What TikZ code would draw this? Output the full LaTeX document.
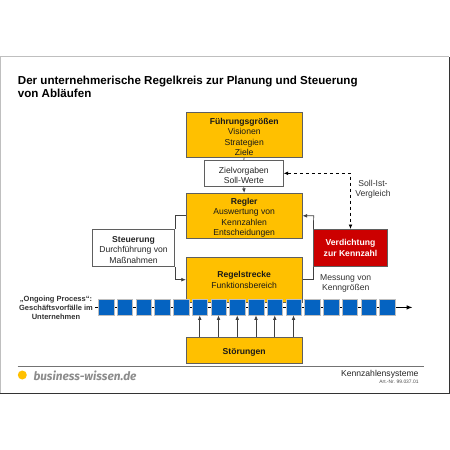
\documentclass[tikz,border=0pt]{standalone}
\usepackage{fontspec}
\setmainfont{Liberation Sans}
\newfontfamily\logofont{Fira Sans}
\usetikzlibrary{arrows.meta}
\definecolor{amber}{HTML}{FFC000}
\definecolor{edgegray}{HTML}{5F5F5F}
\definecolor{redbox}{HTML}{CC0000}
\definecolor{bluebox}{HTML}{0563C1}
\newcommand{\dropline}{\rule{0pt}{10pt}}
\tikzset{
  x=1pt,y=-1pt,
  ybox/.style={draw=edgegray,line width=0.7pt,fill=amber,inner sep=0pt,align=center,font=\fontsize{8.6}{10.5}\selectfont,text=black!90},
  wbox/.style={draw=edgegray,line width=0.7pt,fill=white,inner sep=0pt,align=center,font=\fontsize{8.6}{10.5}\selectfont,text=black!85},
  pbox/.style={draw=black!25,line width=0.5pt,fill=bluebox,minimum width=15.5pt,minimum height=15.5pt,inner sep=0pt},
  lab/.style={align=center,font=\fontsize{8.6}{10.2}\selectfont,text=black!80,inner sep=0pt},
  conn/.style={draw=black!75,line width=0.7pt,-{Latex[length=4.5pt,width=3.8pt]}},
  plain/.style={draw=black!75,line width=0.7pt},
}
\begin{document}
\begin{tikzpicture}
\useasboundingbox (0,0) rectangle (450,450);
\fill[white] (0,0) rectangle (450,450);
% slide frame
\draw[black!25,line width=1pt] (0.5,393) -- (0.5,56.5) -- (449,56.5);
\draw[black!80,line width=1pt] (0,393) -- (449.5,393) -- (449.5,57);
% title
\node[anchor=north west,inner sep=0pt,align=left,font=\bfseries\fontsize{11.6}{13.6}\selectfont] (title) at (17.7,75.7) {Der unternehmerische Regelkreis zur Planung und Steuerung\\von Abläufen};
% boxes
\node[ybox,minimum width=116pt,minimum height=45pt] (fg) at (244.2,134.8) {\dropline\textbf{Führungsgrößen}\\Visionen\\Strategien\\Ziele};
\node[wbox,minimum width=79pt,minimum height=26pt] (zv) at (243.8,173.3) {\dropline Zielvorgaben\\Soll-Werte};
\node[ybox,minimum width=116pt,minimum height=45pt] (re) at (244.2,215.8) {\dropline\textbf{Regler}\\Auswertung von\\Kennzahlen\\Entscheidungen};
\node[wbox,minimum width=82.4pt,minimum height=37.4pt] (st) at (133.5,248) {\dropline\textbf{Steuerung}\\Durchführung von\\Maßnahmen};
\node[ybox,minimum width=116pt,minimum height=45pt] (rs) at (244.2,279.7) {\textbf{Regelstrecke}\\Funktionsbereich};
\node[ybox,minimum width=116pt,minimum height=26pt] (sg) at (244.2,350.3) {\dropline\textbf{Störungen}};
\node[draw=edgegray,line width=0.6pt,fill=redbox,minimum width=73.6pt,minimum height=37.4pt,inner sep=0pt,align=center,text=white,font=\bfseries\fontsize{8.6}{10.5}\selectfont] (vd) at (350.5,248) {Verdichtung\\zur Kennzahl};
% process chain
\coordinate (ps) at (95,307.4);
\coordinate (pe) at (412.7,307.4);
\draw[black,line width=1.3pt,-{Latex[length=6pt,width=4.5pt]}] (ps) -- (pe);
\foreach \n/\x in {1/106,2/124.75,3/143.5,4/162.25,5/181,6/199.75,7/218.5,8/237.25,9/256,10/274.75,11/293.5,12/312.25,13/331,14/349.75,15/368.5,16/387.25}{
  \node[pbox] (p\n) at (\x,307.4) {};
}
\node[lab,font=\bfseries\fontsize{7.5}{9}\selectfont] (ong) at (56,308.3) {„Ongoing Process“:\\Geschäftsvorfälle im\\Unternehmen};
% connectors
\draw[plain] (fg.south) -- (zv.north);
\draw[conn] (zv.south) -- (re.north);
\draw[plain] (st.north east) |- (re.west);
\draw[conn] (st.south east) |- (rs.west);
\coordinate (c1) at (313.7,215.8);
\draw[conn] (vd.north west) -- (c1) -- (re.east);
\draw[plain] (vd.south west) |- (rs.east);
\coordinate (c2) at (350.5,173.3);
\draw[black,line width=0.7pt,dashed,{Latex[length=4.5pt,width=3.8pt]}-{Latex[length=4.5pt,width=3.8pt]}] (zv.east) -- (c2) -- (vd.north);
\foreach \n in {6,7,8,9,10,11}{
  \coordinate (s\n) at (p\n |- sg.north);
  \draw[conn] (s\n) -- (p\n.south);
}
% labels
\node[lab] (si) at (373,189) {Soll-Ist-\\Vergleich};
\node[lab] (me) at (345.7,283.3) {Messung von\\Kenngrößen};
% footer
\draw[black!55,line width=0.7pt] (17.7,366.3) -- (423.7,366.3);
\fill[amber] (22.3,375) circle (4.5);
\node[anchor=west,inner sep=0pt,text=black!45,font=\logofont\bfseries\itshape\fontsize{11.8}{12}\selectfont] (bw) at (33.3,375.5) {business-wissen.de};
\node[anchor=east,inner sep=0pt,text=black!85,font=\fontsize{8.6}{9}\selectfont] (kz) at (418.7,374) {Kennzahlensysteme};
\node[anchor=east,inner sep=0pt,text=black!70,font=\fontsize{4.9}{5}\selectfont] (art) at (418.7,382.3) {Art.-Nr. 99.037.01};
\end{tikzpicture}
\end{document}
